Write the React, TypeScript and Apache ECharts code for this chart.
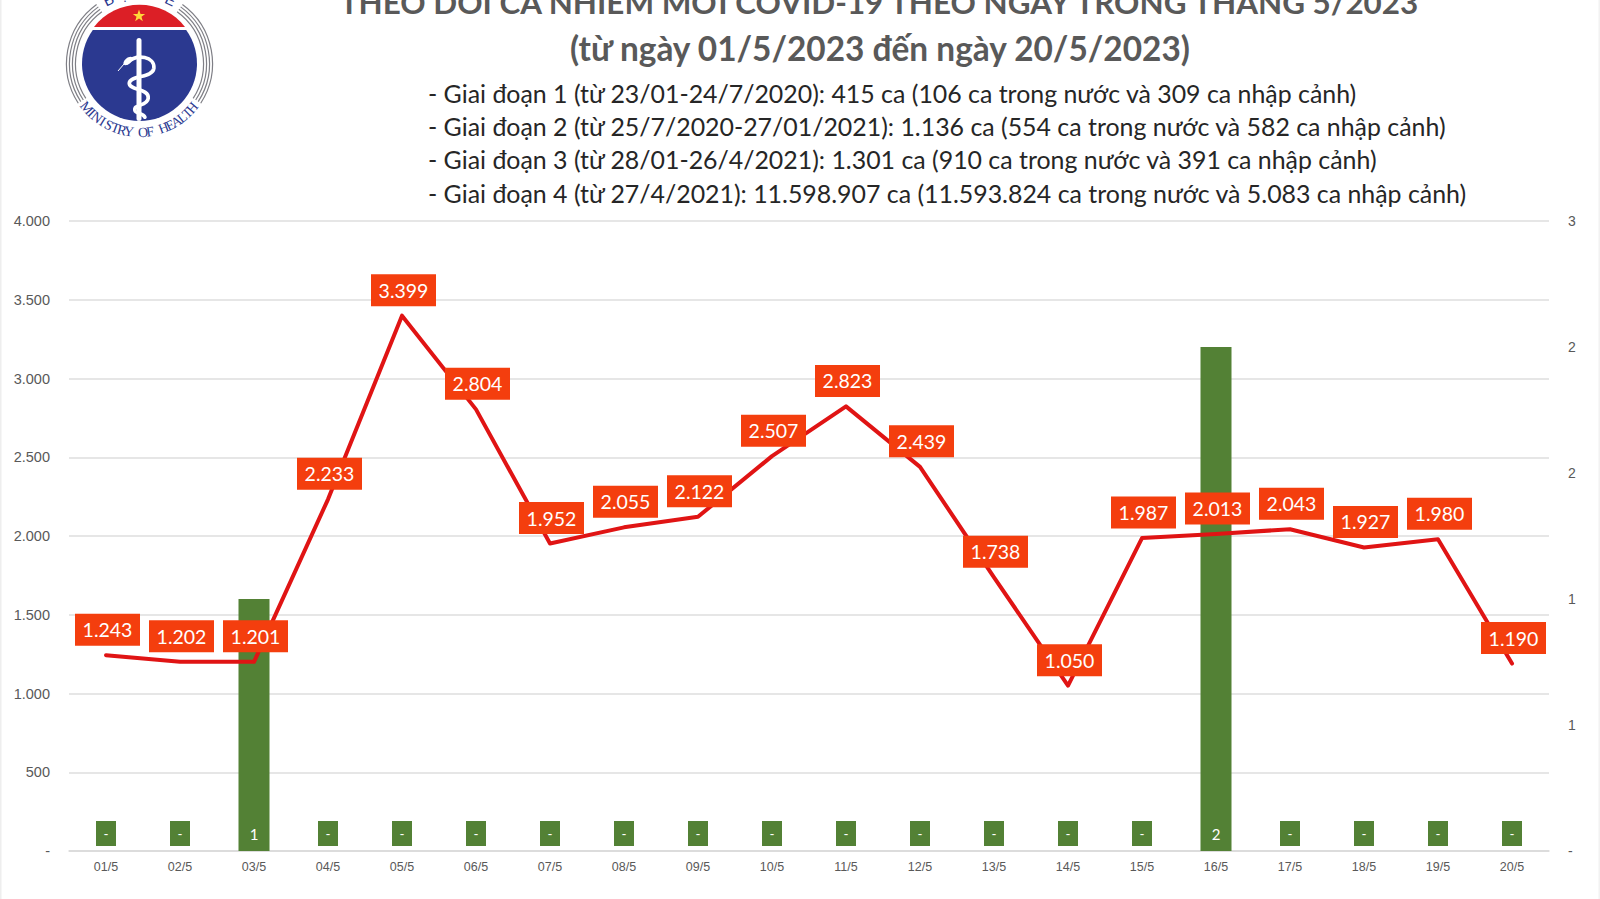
import React, { useEffect, useRef } from "react";
import * as echarts from "echarts";

const categories = ["01/5","02/5","03/5","04/5","05/5","06/5","07/5","08/5","09/5","10/5","11/5","12/5","13/5","14/5","15/5","16/5","17/5","18/5","19/5","20/5"];
const dailyCases = [1243,1202,1201,2233,3399,2804,1952,2055,2122,2507,2823,2439,1738,1050,1987,2013,2043,1927,1980,1190];
const deaths = [0,0,1,0,0,0,0,0,0,0,0,0,0,0,0,2,0,0,0,0];
const titleLines = ["THEO DÕI CA NHIỄM MỚI COVID-19 THEO NGÀY TRONG THÁNG 5/2023","(từ ngày 01/5/2023 đến ngày 20/5/2023)"];
const stageLines = [
  "- Giai đoạn 1 (từ 23/01-24/7/2020): 415 ca (106 ca trong nước và 309 ca nhập cảnh)",
  "- Giai đoạn 2 (từ 25/7/2020-27/01/2021): 1.136 ca (554 ca trong nước và 582 ca nhập cảnh)",
  "- Giai đoạn 3 (từ 28/01-26/4/2021): 1.301 ca (910 ca trong nước và 391 ca nhập cảnh)",
  "- Giai đoạn 4 (từ 27/4/2021): 11.598.907 ca (11.593.824 ca trong nước và 5.083 ca nhập cảnh)",
];

const FONT = "Lato, 'Open Sans', 'Noto Sans', sans-serif";
const AXIS_FONT = "'Liberation Sans', Arial, sans-serif";
const fmt = (v: number) => (v === 0 ? "-" : String(v).replace(/\B(?=(\d{3})+$)/g, "."));

echarts.graphic.registerShape("logoRed", echarts.graphic.extendPath("M94,27 A57.5,57.5 0 0 1 185,27 Z", {}));
echarts.graphic.registerShape("logoBlue", echarts.graphic.extendPath("M92.8,30 A57.5,57.5 0 1 0 186.2,30 Z", {}));
echarts.graphic.registerShape("logoSnake", echarts.graphic.extendPath("M232,188 C262,160 315,170 312,205 C308,235 240,225 238,250 C238,272 298,265 295,295 C292,320 250,312 255,332 C258,342 280,340 285,352", {}));

function logoElements() {
  const cx = 139.5, cy = 63.5;
  const els: any[] = [];
  const rad = (d: number) => (d * Math.PI) / 180;
  [64, 67, 70, 73].forEach((r) => {
    els.push({ type: "arc", shape: { cx, cy, r, startAngle: rad(147), endAngle: rad(234), clockwise: true }, style: { stroke: "#7f7f86", lineWidth: 1.2, fill: "none" } });
    els.push({ type: "arc", shape: { cx, cy, r, startAngle: rad(-54), endAngle: rad(33), clockwise: true }, style: { stroke: "#7f7f86", lineWidth: 1.2, fill: "none" } });
  });
  els.push({ type: "logoRed", style: { fill: "#dc1f26" } });
  els.push({ type: "logoBlue", style: { fill: "#2b3990" } });
  const star: number[][] = [];
  for (let i = 0; i < 10; i++) {
    const r = i % 2 === 0 ? 6.5 : 2.6;
    const a = rad(-90 + i * 36);
    star.push([139 + r * Math.cos(a), 16 + r * Math.sin(a)]);
  }
  els.push({ type: "polygon", shape: { points: star }, style: { fill: "#ffd83a" } });
  els.push({ type: "rect", shape: { x: 136.5, y: 38, width: 5, height: 83, r: 2.5 }, style: { fill: "#ffffff" } });
  els.push({ type: "logoSnake", x: 50, y: 0, scaleX: 1 / 3, scaleY: 1 / 3, style: { stroke: "#ffffff", lineWidth: 11, fill: "none", lineCap: "round" } });
  els.push({ type: "ellipse", shape: { cx: 128, cy: 61, rx: 5.5, ry: 3 }, originX: 128, originY: 61, rotation: rad(40), style: { fill: "#ffffff" } });
  els.push({ type: "line", shape: { x1: 124, y1: 64, x2: 118, y2: 71 }, style: { stroke: "#ffffff", lineWidth: 1 } });
  const top = ["B", "Ộ", "Y", "T", "Ế"];
  top.forEach((ch, i) => {
    const a = (i - 2) * 13;
    els.push({ type: "text", x: cx + 71 * Math.sin(rad(a)), y: cy - 71 * Math.cos(rad(a)), rotation: rad(-a), style: { text: ch, fontSize: 15, fontFamily: "'Liberation Sans', sans-serif", fill: "#2b3990", align: "center", verticalAlign: "middle" } });
  });
  const bottom = "MINISTRY OF HEALTH";
  bottom.split("").forEach((ch, i) => {
    const a = -50 + (i * 100) / (bottom.length - 1);
    els.push({ type: "text", x: cx + 69 * Math.sin(rad(a)), y: cy + 69 * Math.cos(rad(a)), rotation: rad(a), style: { text: ch, fontSize: 14, fontFamily: "'Liberation Serif', serif", fill: "#2b3990", align: "center", verticalAlign: "middle" } });
  });
  return els;
}

export default function App() {
  const ref = useRef<HTMLDivElement>(null);
  useEffect(() => {
    const chart = echarts.init(ref.current!, undefined, { renderer: "svg" });
    chart.setOption({
      animation: false,
      backgroundColor: "#ffffff",
      grid: { left: 69, right: 51, top: 221, bottom: 48 },
      xAxis: {
        type: "category",
        data: categories,
        axisTick: { show: false },
        axisLine: { lineStyle: { color: "#d9d9d9", width: 1.5 } },
        axisLabel: { color: "#595959", fontSize: 12.5, fontFamily: AXIS_FONT, margin: 9 },
      },
      yAxis: [
        {
          type: "value", min: 0, max: 4000, interval: 500,
          axisLine: { show: false }, axisTick: { show: false },
          splitLine: { lineStyle: { color: "#dedede", width: 1.5 } },
          axisLabel: { color: "#595959", fontSize: 14.5, fontFamily: AXIS_FONT, margin: 19, formatter: (v: number) => fmt(v) },
        },
        {
          type: "value", min: 0, max: 2.5, interval: 0.5,
          axisLine: { show: false }, axisTick: { show: false }, splitLine: { show: false },
          axisLabel: { color: "#595959", fontSize: 14, fontFamily: AXIS_FONT, margin: 19, formatter: (v: number) => (v === 0 ? "-" : String(Math.round(v))) },
        },
      ],
      series: [
        {
          type: "bar",
          yAxisIndex: 1,
          barWidth: 31,
          z: 2,
          itemStyle: { color: "#538135" },
          data: deaths.map((v) => ({
            value: v,
            label: {
              show: true,
              position: "insideBottom",
              distance: 5,
              formatter: v === 0 ? "-" : String(v),
              color: "#ffffff",
              fontSize: v === 0 ? 13.5 : 15,
              fontFamily: FONT,
              width: 20,
              height: 25,
              lineHeight: 25,
              align: "center",
              backgroundColor: v === 0 ? "#538135" : "transparent",
            },
          })),
        },
        {
          type: "line",
          yAxisIndex: 0,
          data: dailyCases,
          symbol: "circle",
          symbolSize: 1,
          showSymbol: true,
          showAllSymbol: true,
          z: 3,
          itemStyle: { color: "#e01414" },
          lineStyle: { color: "#e01414", width: 4, cap: "round", join: "round" },
          label: {
            show: true,
            position: "top",
            distance: 10,
            offset: [1.5, 1],
            formatter: (p: any) => fmt(p.value),
            color: "#ffffff",
            fontSize: 19.5,
            fontFamily: FONT,
            backgroundColor: "#f43e0e",
            width: 65,
            height: 32,
            lineHeight: 32,
            align: "center",
          },
        },
      ],
      graphic: [
        { type: "rect", shape: { x: 0, y: 0, width: 1.5, height: 899 }, style: { fill: "#eeeeee" } },
        { type: "rect", shape: { x: 1598.5, y: 0, width: 1.5, height: 899 }, style: { fill: "#f2f2f2" } },
        { type: "group", children: logoElements() },
        { type: "text", x: 879, y: 2, style: { text: titleLines[0], fontSize: 31.4, fontWeight: "bold", fontFamily: FONT, fill: "#595959", align: "center", verticalAlign: "middle" } },
        { type: "text", x: 880, y: 48, style: { text: titleLines[1], fontSize: 33.4, fontWeight: "bold", fontFamily: FONT, fill: "#595959", align: "center", verticalAlign: "middle" } },
        ...stageLines.map((t, i) => ({ type: "text", x: 428, y: 92.5 + i * 33.4, style: { text: t, fontSize: 24.9, fontFamily: FONT, fill: "#262626", align: "left", verticalAlign: "middle" } })),
      ],
    });
    return () => chart.dispose();
  }, []);
  return <div ref={ref} style={{ position: "fixed", left: 0, top: 0, width: 1600, height: 899 }} />;
}
